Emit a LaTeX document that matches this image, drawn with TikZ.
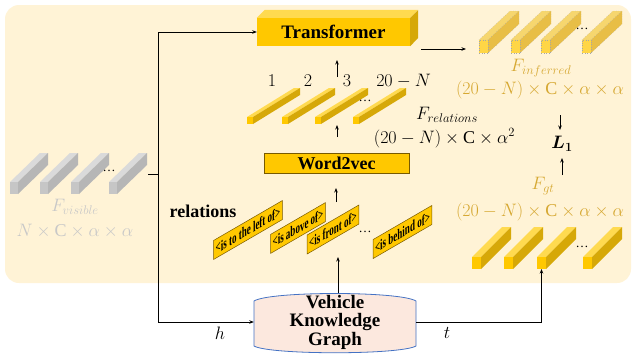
\documentclass[tikz,border=0pt]{standalone}
\usepackage{fix-cm}
\usepackage{amsmath}
\usepackage{fontspec}
\setmainfont{Liberation Serif}[BoldFont={Liberation Serif Bold}]
\newfontfamily\tagfont[FakeStretch=0.6]{Liberation Serif Bold}
\usetikzlibrary{arrows.meta}

\definecolor{cream}{RGB}{255,243,214}
\definecolor{goldfront}{RGB}{255,200,0}
\definecolor{goldtop}{RGB}{255,218,80}
\definecolor{goldside}{RGB}{214,168,8}
\definecolor{palefront}{RGB}{255,214,70}
\definecolor{paletop}{RGB}{246,214,110}
\definecolor{paleside}{RGB}{232,190,70}
\definecolor{greyfront}{RGB}{198,198,198}
\definecolor{greytop}{RGB}{218,218,218}
\definecolor{greyside}{RGB}{182,182,182}
\definecolor{labelgold}{RGB}{214,168,50}
\definecolor{labelgrey}{RGB}{200,200,200}
\definecolor{kgfill}{RGB}{252,232,222}
\definecolor{kgline}{RGB}{68,114,196}
\definecolor{tagline}{RGB}{120,90,0}

% cuboid: [draw options]{left}{bottom}{width}{height}{depth dx}{depth dy}{colour prefix}
\newcommand\prism[8][draw=none]{%
  \filldraw[#1, fill=#8top] (#2,#3-#5) -- ++(#6,-#7) -- ++(#4,0) -- ++(-#6,#7) -- cycle;
  \filldraw[#1, fill=#8side] (#2+#4,#3-#5) -- ++(#6,-#7) -- ++(0,#5) -- ++(-#6,#7) -- cycle;
  \filldraw[#1, fill=#8front] (#2,#3) rectangle ++(#4,-#5);
}

\begin{document}
\begin{tikzpicture}[x=1pt,y=-1pt,
  link/.style={line width=0.8pt, -{Stealth[length=4.5pt,width=3.5pt]}},
  plain/.style={line width=0.8pt},
  mathlbl/.style={font=\fontsize{18}{20}\selectfont, inner sep=0pt},
  boldlbl/.style={font=\fontsize{18}{20}\selectfont\bfseries, inner sep=0pt},
  dotlbl/.style={font=\fontsize{13}{13}\selectfont, inner sep=0pt},
  reltag/.style={draw=tagline, line width=0.5pt, fill=goldfront, yslant=0.58,
    transform shape, inner xsep=2pt, inner ysep=1pt, minimum height=19pt,
    font=\tagfont\fontsize{15}{15}\selectfont},
  boxtext/.style={font=\fontsize{19}{20}\selectfont\bfseries, inner sep=0pt}
]
\useasboundingbox (0,0) rectangle (632,356);

% panel
\fill[cream, rounded corners=14pt] (5,5) rectangle (631,283);

% visible feature maps
\prism{10}{194}{8}{12}{30}{29}{grey}
\prism{40}{194}{8}{12}{30}{29}{grey}
\prism{71}{194}{8}{12}{30}{29}{grey}
\prism{109}{194}{8}{12}{30}{29}{grey}
\node[dotlbl] at (109,171) {\ldots};
\node[mathlbl, text=labelgrey] (fvis) at (75,207) {$F_{visible}$};
\node[mathlbl, text=labelgrey] (fvisdim) at (75,231) {$N\times\mathrm{C}\times\alpha\times\alpha$};
\coordinate (vis) at (148,174);
\coordinate (split) at (158,174);

% transformer block
\node[boxtext, fill=goldfront, minimum width=153pt, minimum height=28pt] (tr) at (333.5,32) {Transformer};
\fill[goldtop] (tr.north west) -- ++(8,-8) -- ++(153,0) -- (tr.north east) -- cycle;
\fill[goldside] (tr.north east) -- ++(8,-8) -- ++(0,28) -- (tr.south east) -- cycle;

% relation embeddings
\prism{247}{124}{6}{7}{47}{29}{gold}
\prism{282}{124}{6}{7}{47}{29}{gold}
\prism{315}{124}{6}{7}{47}{29}{gold}
\prism{353}{124}{6}{7}{47}{29}{gold}
\node[dotlbl] at (365,101) {\ldots};
\node[mathlbl] (n1) at (272,81) {$1$};
\node[mathlbl] (n2) at (308,81) {$2$};
\node[mathlbl] (n3) at (347,81) {$3$};
\node[mathlbl] (n4) at (403.5,81) {$20-N$};
\node[mathlbl] (frel) at (447,115) {$F_{relations}$};
\node[mathlbl] (freldim) at (444.5,138) {$(20-N)\times\mathrm{C}\times\alpha^2$};

% word embedding
\node[boxtext, font=\fontsize{18}{20}\selectfont\bfseries, fill=goldfront, draw=tagline, line width=0.8pt,
  minimum width=145pt, minimum height=20pt] (w2v) at (336.5,163) {Word2vec};

% relation words
\node[boldlbl] (rels) at (203,211) {relations};
\node[reltag] (t1) at (248,230) {<is to the left of>};
\node[reltag] (t2) at (298,228) {<is above of>};
\node[reltag] (t3) at (333,229.5) {<is front of>};
\node[reltag] (t4) at (402.5,232) {<is behind of>};
\node[dotlbl] at (365,232) {\ldots};

% inferred features
\prism[draw=gray!70, dotted, line width=0.4pt]{479}{53}{9}{13}{31}{29}{pale}
\prism[draw=gray!70, dotted, line width=0.4pt]{511}{53}{9}{13}{31}{29}{pale}
\prism[draw=gray!70, dotted, line width=0.4pt]{541}{53}{9}{13}{31}{29}{pale}
\prism[draw=gray!70, dotted, line width=0.4pt]{582}{53}{9}{13}{31}{29}{pale}
\node[dotlbl] at (582,29) {\ldots};
\node[mathlbl, text=labelgold] (finf) at (541,68) {$F_{inferred}$};
\node[mathlbl, text=labelgold] (finfdim) at (540,90) {$(20-N)\times\mathrm{C}\times\alpha\times\alpha$};

% loss
\node[mathlbl] (loss) at (562,144) {$\boldsymbol{L_1}$};

% ground-truth features
\node[mathlbl, text=labelgold] (fgt) at (543,186) {$F_{gt}$};
\node[mathlbl, text=labelgold] (fgtdim) at (540,212) {$(20-N)\times\mathrm{C}\times\alpha\times\alpha$};
\prism{472}{269}{9}{12}{30}{30}{gold}
\prism{504}{269}{9}{12}{30}{30}{gold}
\prism{537}{269}{9}{12}{30}{30}{gold}
\prism{583}{269}{9}{12}{30}{30}{gold}
\node[dotlbl] at (582,247) {\ldots};
\coordinate (gt3) at (541.5,269);

% knowledge graph
\filldraw[fill=kgfill, draw=kgline, line width=0.8pt]
  (254,301) .. controls (270,291) and (400,291) .. (416,301) -- (416,346)
  .. controls (400,355) and (270,355) .. (254,346) -- cycle;
\node[boxtext, align=center, font=\fontsize{19}{18.5}\selectfont\bfseries, minimum width=162pt] (kg) at (335,322)
  {Vehicle\\Knowledge\\Graph};

% short vertical links
\coordinate (kgtop) at (338,293);
\coordinate (tagsin) at (338,257);
\coordinate (tagsout) at (336,202);
\coordinate (w2vin) at (336,188);
\coordinate (w2vout) at (337,137);
\coordinate (relin) at (337,125);
\coordinate (relout) at (337,77);
\coordinate (trin) at (337,60);
\coordinate (trout) at (421,49);
\coordinate (infin) at (466,49);
\coordinate (infout) at (560,115);
\coordinate (lossin) at (560,130);
\coordinate (gtout) at (562,175);
\coordinate (lossin2) at (562,158);

% connectors
\draw[plain] (vis) -- (split);
\draw[link] (split) |- (tr.west);
\draw[link] (split) |- (kg.west);
\draw[link] (kg.east) -| (gt3);
\draw[link] (kgtop) -- (tagsin);
\draw[link] (tagsout) -- (w2vin);
\draw[link] (w2vout) -- (relin);
\draw[link] (relout) -- (trin);
\draw[link] (trout) -- (infin);
\draw[link] (infout) -- (lossin);
\draw[link] (gtout) -- (lossin2);

\node[mathlbl] (hl) at (220,333) {$h$};
\node[mathlbl] (tl) at (447,333) {$t$};
\end{tikzpicture}
\end{document}
